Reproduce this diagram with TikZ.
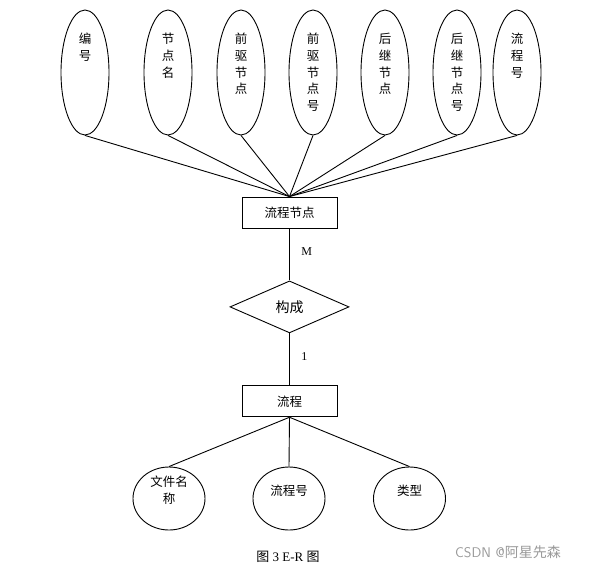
\documentclass[tikz,border=0pt]{standalone}
\usepackage{fontspec}
\setmainfont{Liberation Serif}
\newfontfamily\cjk{Noto Sans CJK SC}
\usetikzlibrary{shapes.geometric, positioning}

\begin{document}
\begin{tikzpicture}[x=1pt, y=-1pt, node distance=52pt, line width=0.9pt,
        attr/.style={ellipse, draw, inner sep=0pt, minimum width=48pt, minimum height=125pt},
        battr/.style={ellipse, draw, inner sep=0pt, minimum width=72pt, minimum height=63pt},
        vtext/.style={anchor=north, inner sep=0pt, yshift=-23pt, align=center,
            font=\cjk\fontsize{12.5}{16.8}\selectfont},
        btext/.style={inner sep=0pt, yshift=8pt, align=center,
            font=\cjk\fontsize{12.5}{17}\selectfont},
        entity/.style={rectangle, draw, minimum width=95pt, minimum height=31pt,
            font=\cjk\fontsize{12.5}{14}\selectfont},
        card/.style={font=\fontsize{12}{13}\selectfont}]
        \useasboundingbox (0,0) rectangle (592,571);
        % attributes of the node entity
        \node[attr, label={[vtext]north:编\\号}] (A1) at (85,72.5) {};
        \node[attr, label={[vtext]north:节\\点\\名}] (A2) at (168,72.5) {};
        \node[attr, label={[vtext]north:前\\驱\\节\\点}] (A3) at (241,72.5) {};
        \node[attr, label={[vtext]north:前\\驱\\节\\点\\号}] (A4) at (313,72.5) {};
        \node[attr, label={[vtext]north:后\\继\\节\\点}] (A5) at (385,72.5) {};
        \node[attr, label={[vtext]north:后\\继\\节\\点\\号}] (A6) at (457,72.5) {};
        \node[attr, label={[vtext]north:流\\程\\号}] (A7) at (517,72.5) {};
        % entities and relation
        \node[entity] (E1) at (289.5,212.5) {流程节点};
        \node[diamond, draw, inner sep=0pt, minimum width=119pt, minimum height=52pt,
            font=\cjk\fontsize{14}{16}\selectfont, below=of E1] (R) {构成};
        \node[entity, below=of R] (E2) {流程};
        % attributes of the flow entity
        \node[battr, label={[btext]center:文件名\\称}] (B1) at (169,498.5) {};
        \node[battr, label={[btext]center:流程号}] (B2) at (289,498.5) {};
        \node[battr, label={[btext]center:类型}] (B3) at (409.5,498.5) {};
        \foreach \i in {1,...,7} {
            \draw (A\i.south) -- (E1.north);
        }
        \draw (E1) -- node[card, pos=0.45, right=8pt] {M} (R);
        \draw (R) -- node[card, pos=0.45, right=8pt] {1} (E2);
        \foreach \i in {1,2,3} {
            \draw (E2.south) -- (B\i.north);
        }
        \node[font=\fontsize{13}{15}\selectfont] (cap) at (288,557) {{\cjk 图} 3 E-R {\cjk 图}};
        \node[text=black!40, font=\fontsize{14}{16}\selectfont\sffamily] (wm) at (508,552)
            {CSDN @{\cjk 阿星先森}};
    \end{tikzpicture}
\end{document}
